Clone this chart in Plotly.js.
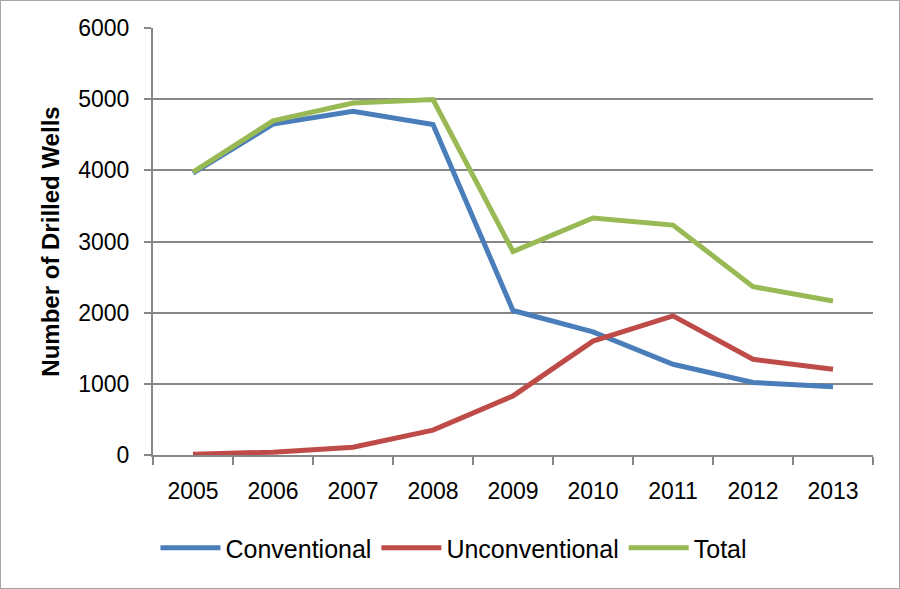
<!DOCTYPE html>
<html>
<head>
<meta charset="utf-8">
<script src="https://cdn.plot.ly/plotly-3.0.1.min.js"></script>
<style>
  html, body { margin: 0; padding: 0; background: #fff; }
  #frame { width: 900px; height: 589px; box-sizing: border-box; border: 1px solid #a6a6a6; }
  #chart { width: 898px; height: 587px; }
</style>
</head>
<body>
<div id="frame"><div id="chart"></div></div>
<script>
const years = ["2005", "2006", "2007", "2008", "2009", "2010", "2011", "2012", "2013"];
const conventional = [3960, 4650, 4830, 4645, 2030, 1730, 1275, 1020, 960];
const unconventional = [10, 40, 110, 350, 830, 1600, 1955, 1345, 1205];
const total = [3975, 4695, 4945, 4995, 2860, 3330, 3230, 2365, 2165];
const seriesNames = ["Conventional", "Unconventional", "Total"];
const yTicks = [0, 1000, 2000, 3000, 4000, 5000, 6000];

const colors = ["#4a7ebb", "#be4b48", "#98b954"];
const seriesData = [conventional, unconventional, total];

const traces = seriesData.map((vals, i) => ({
  type: "scatter",
  mode: "lines",
  x: years,
  y: vals,
  name: seriesNames[i],
  line: { color: colors[i], width: 5 },
  hoverinfo: "x+y+name"
}));

const layout = {
  width: 898,
  height: 587,
  margin: { l: 152, r: 26, t: 27, b: 133 },
  paper_bgcolor: "#ffffff",
  plot_bgcolor: "#ffffff",
  font: { family: "Liberation Sans, Arial, sans-serif", color: "#000000", size: 23 },
  showlegend: true,
  legend: {
    orientation: "h",
    x: 0.418,
    xanchor: "center",
    y: -0.218,
    yanchor: "middle",
    font: { size: 25, color: "#000" },
    itemwidth: 60,
    traceorder: "normal"
  },
  xaxis: {
    type: "category",
    range: [-0.5, 8.5],
    showgrid: false,
    showline: true,
    linecolor: "#868686",
    linewidth: 2,
    ticks: "outside",
    tickson: "boundaries",
    ticklen: 8,
    tickwidth: 2,
    tickcolor: "#868686",
    tickfont: { size: 23 },
    ticklabelstandoff: 14,
    zeroline: false,
    fixedrange: true
  },
  yaxis: {
    range: [0, 6000],
    tickvals: yTicks,
    ticktext: yTicks.map(String),
    showgrid: true,
    gridcolor: "#868686",
    gridwidth: 2,
    showline: true,
    linecolor: "#868686",
    linewidth: 2,
    ticks: "outside",
    ticklen: 7,
    tickwidth: 2,
    tickcolor: "#868686",
    tickfont: { size: 23 },
    ticklabelstandoff: 10,
    zeroline: false,
    fixedrange: true,
    title: {
      text: "<b>Number of Drilled Wells</b>",
      font: { size: 24 },
      standoff: 12
    }
  }
};

Plotly.newPlot("chart", traces, layout, { displayModeBar: false, staticPlot: true });
</script>
</body>
</html>
